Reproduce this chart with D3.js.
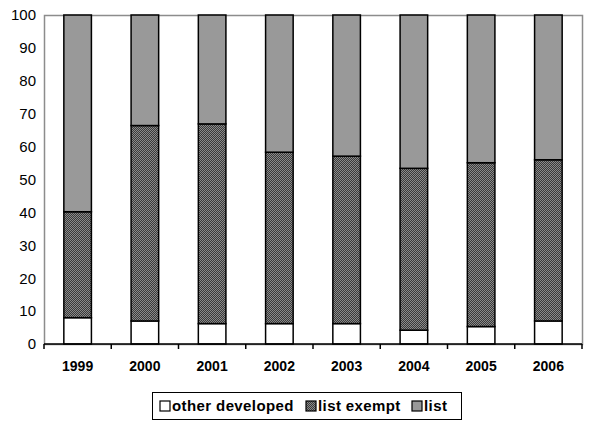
<!DOCTYPE html>
<html>
<head>
<meta charset="utf-8">
<script src="https://cdn.jsdelivr.net/npm/d3@7"></script>
<style>
  body { margin: 0; background: #fff; }
  text { font-family: "Liberation Sans", Arial, sans-serif; }
</style>
</head>
<body>
<div id="chart"></div>
<script>
// data (percent)
var years = ["1999", "2000", "2001", "2002", "2003", "2004", "2005", "2006"];
var otherDeveloped = [8, 7, 6.2, 6.2, 6.2, 4.2, 5.3, 7];
var listExempt = [32.2, 59.4, 60.7, 52.1, 50.9, 49.2, 49.8, 49];
var list = [59.8, 33.6, 33.1, 41.7, 42.9, 46.6, 44.9, 44];
var seriesNames = ["other developed", "list exempt", "list"];
var yTicks = [0, 10, 20, 30, 40, 50, 60, 70, 80, 90, 100];

var margin = { top: 15, right: 18, bottom: 93, left: 44 },
    width = 600 - margin.left - margin.right,
    height = 437 - margin.top - margin.bottom;

var svg = d3.select("#chart")
    .append("svg")
    .attr("width", 600)
    .attr("height", 437);

// checkered fill for "list exempt"
var defs = svg.append("defs");
var pat = defs.append("pattern")
    .attr("id", "checker")
    .attr("width", 2)
    .attr("height", 2)
    .attr("patternUnits", "userSpaceOnUse");
pat.append("rect").attr("width", 2).attr("height", 2).attr("fill", "#8a8a8a");
pat.append("rect").attr("width", 1).attr("height", 1).attr("fill", "#3a3a3a");
pat.append("rect").attr("x", 1).attr("y", 1).attr("width", 1).attr("height", 1).attr("fill", "#3a3a3a");

var fills = ["#ffffff", "url(#checker)", "#999999"];

var g = svg.append("g")
    .attr("transform", "translate(" + margin.left + "," + margin.top + ")");

var x = d3.scaleBand()
    .range([0, width])
    .domain(years)
    .paddingInner(0.59)
    .paddingOuter(0.295);

var y = d3.scaleLinear()
    .range([height, 0])
    .domain([0, 100]);

// plot frame (grey top/right/left)
g.append("rect")
    .attr("x", 0.5)
    .attr("y", 0.5)
    .attr("width", width)
    .attr("height", height)
    .attr("fill", "none")
    .attr("stroke", "#8c8c8c")
    .attr("stroke-width", 1.5);

// stacked data
var rows = years.map(function (yr, i) {
    return { year: yr, "other developed": otherDeveloped[i], "list exempt": listExempt[i], "list": list[i] };
});
var stacked = d3.stack().keys(seriesNames)(rows);

g.selectAll(".series")
    .data(stacked)
    .enter()
    .append("g")
    .attr("fill", function (d, i) { return fills[i]; })
    .selectAll("rect")
    .data(function (d) { return d; })
    .enter()
    .append("rect")
    .attr("x", function (d) { return x(d.data.year); })
    .attr("y", function (d) { return y(d[1]); })
    .attr("width", x.bandwidth())
    .attr("height", function (d) { return y(d[0]) - y(d[1]); })
    .attr("stroke", "#000")
    .attr("stroke-width", 1.5);

// y axis labels
var axisY = g.append("g")
    .call(d3.axisLeft(y).tickValues(yTicks).tickSize(0).tickPadding(8));
axisY.select(".domain").remove();
axisY.selectAll("text")
    .attr("font-size", 15)
    .attr("fill", "#000")
    .style("font-family", "'Liberation Sans', Arial, sans-serif");

// x axis: black line with ticks between categories
var axisX = g.append("g")
    .attr("transform", "translate(0," + height + ")");
axisX.append("line")
    .attr("x1", 0)
    .attr("x2", width)
    .attr("stroke", "#000")
    .attr("stroke-width", 1.5);
var step = x.step();
d3.range(years.length + 1).forEach(function (k) {
    axisX.append("line")
        .attr("x1", k * step)
        .attr("x2", k * step)
        .attr("y1", 0)
        .attr("y2", 5)
        .attr("stroke", "#000")
        .attr("stroke-width", 1.5);
});
axisX.selectAll(".lbl")
    .data(years)
    .enter()
    .append("text")
    .attr("class", "lbl")
    .attr("x", function (d) { return x(d) + x.bandwidth() / 2; })
    .attr("y", 27)
    .attr("text-anchor", "middle")
    .attr("font-size", 14)
    .attr("font-weight", "bold")
    .text(function (d) { return d; });

// legend
var legend = svg.append("g");
legend.append("rect")
    .attr("x", 152.5)
    .attr("y", 392.5)
    .attr("width", 309)
    .attr("height", 27)
    .attr("fill", "#fff")
    .attr("stroke", "#000")
    .attr("stroke-width", 1);

var legendX = [160, 306, 412];
seriesNames.forEach(function (name, i) {
    legend.append("rect")
        .attr("x", legendX[i])
        .attr("y", 401)
        .attr("width", 10)
        .attr("height", 10)
        .attr("fill", fills[i])
        .attr("stroke", "#000")
        .attr("stroke-width", 1.2);
    legend.append("text")
        .attr("x", legendX[i] + 12)
        .attr("y", 411)
        .attr("font-size", 15)
        .attr("font-weight", "bold")
        .attr("letter-spacing", 0.4)
        .text(name);
});
</script>
</body>
</html>
